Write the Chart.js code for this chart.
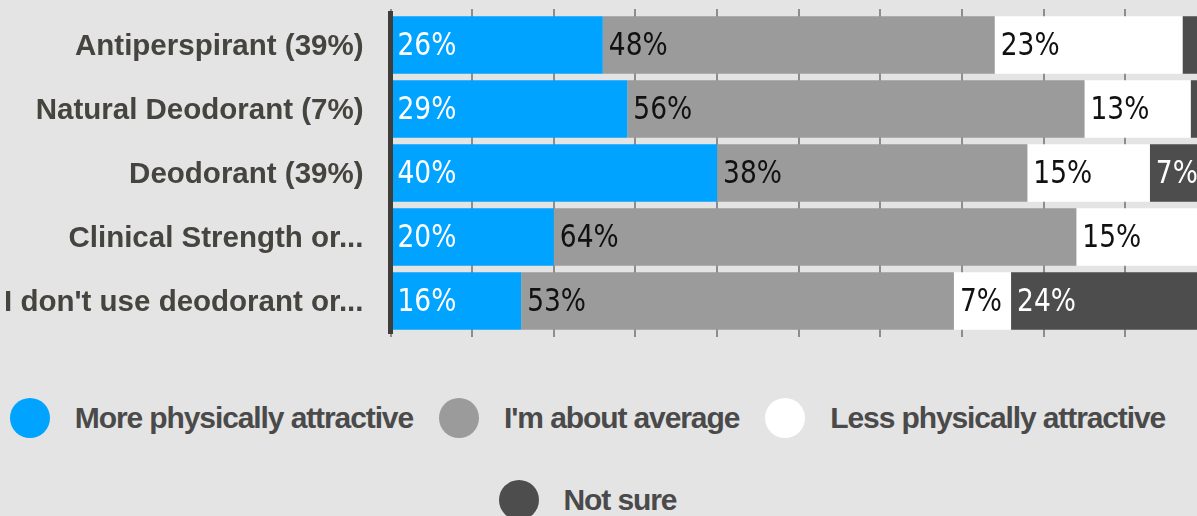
<!DOCTYPE html>
<html>
<head>
<meta charset="utf-8">
<script src="https://cdn.jsdelivr.net/npm/chart.js@4"></script>
<style>
  html, body { margin: 0; padding: 0; overflow: hidden; background: #e4e4e4; width: 1197px; height: 516px; }
  #wrap { position: absolute; left: 0; top: 0; width: 1207px; height: 340px; }
  #legend {
    position: absolute; left: 1px; top: 398px; width: 1173px;
    display: flex; flex-wrap: wrap; justify-content: center;
    column-gap: 26px; row-gap: 42px;
  }
  .item { display: flex; align-items: center; height: 40px; }
  .dot { width: 40px; height: 40px; border-radius: 50%; margin-right: 25px; }
  .txt {
    font: bold 30px "Liberation Sans", Arial, sans-serif; letter-spacing: -1.1px;
    color: #4a4a4a; line-height: 40px; white-space: nowrap;
  }
</style>
</head>
<body>
<div id="wrap"><canvas id="chart"></canvas></div>
<div id="legend"></div>
<script>
const categories = ['Antiperspirant (39%)', 'Natural Deodorant (7%)', 'Deodorant (39%)', 'Clinical Strength or...', "I don't use deodorant or..."];
const seriesNames = ['More physically attractive', "I'm about average", 'Less physically attractive', 'Not sure'];
const moreAttractive = [26, 29, 40, 20, 16];
const aboutAverage = [48, 56, 38, 64, 53];
const lessAttractive = [23, 13, 15, 15, 7];
const notSure = [3, 2, 7, 1, 24];
const seriesColors = ['#00a3ff', '#9b9b9b', '#ffffff', '#4d4d4d'];
const labelColors = ['#ffffff', '#111111', '#111111', '#ffffff'];

const allValues = [moreAttractive, aboutAverage, lessAttractive, notSure];

// draws "26%" style labels inside each segment, left aligned
const barLabels = {
  id: 'barLabels',
  afterDatasetsDraw(chart) {
    const ctx = chart.ctx;
    const squeeze = 0.92;
    chart.data.datasets.forEach((ds, i) => {
      const meta = chart.getDatasetMeta(i);
      meta.data.forEach((bar, j) => {
        const p = bar.getProps(['x', 'y', 'base'], true);
        const txt = ds.data[j] + '%';
        ctx.save();
        ctx.font = '32px "DejaVu Sans Condensed", "DejaVu Sans", sans-serif';
        ctx.textBaseline = 'middle';
        ctx.textAlign = 'left';
        const w = ctx.measureText(txt).width * squeeze;
        if (p.x - p.base >= w + 10) {
          ctx.translate(p.base + 6, p.y + 2);
          ctx.scale(squeeze, 1);
          ctx.fillStyle = labelColors[i];
          ctx.fillText(txt, 0, 0);
        }
        ctx.restore();
      });
    });
  }
};

const gridColor = '#8d8d8d';

const chart = new Chart(document.getElementById('chart'), {
  type: 'bar',
  data: {
    labels: categories,
    datasets: seriesNames.map((name, i) => ({
      label: name,
      data: allValues[i],
      backgroundColor: seriesColors[i],
      borderWidth: 0,
      barPercentage: 0.9,
      categoryPercentage: 1
    }))
  },
  options: {
    indexAxis: 'y',
    responsive: true,
    maintainAspectRatio: false,
    animation: false,
    devicePixelRatio: 1,
    layout: { padding: { top: 9, bottom: 3, left: 0, right: 0 } },
    plugins: { legend: { display: false }, tooltip: { enabled: false } },
    scales: {
      x: {
        stacked: true, min: 0, max: 100,
        ticks: { display: false, stepSize: 10 },
        grid: { color: gridColor, lineWidth: 2, tickLength: 4 },
        border: { display: false }
      },
      x2: {
        type: 'linear', position: 'top', min: 0, max: 100,
        ticks: { display: false, stepSize: 10 },
        grid: { color: gridColor, lineWidth: 2, tickLength: 4, drawOnChartArea: false },
        border: { display: false }
      },
      y: {
        stacked: true,
        grid: { display: false, drawTicks: false },
        border: { display: true, color: '#3f3d39', width: 5, z: 1 },
        ticks: {
          color: '#46443f', padding: 27, labelOffset: 2,
          font: { family: '"Liberation Sans", Arial, sans-serif', size: 29.5, weight: 'bold' }
        },
        afterFit(scale) {
          scale.width = 390.5;
          scale.paddingTop = 0;
          scale.paddingBottom = 0;
        }
      }
    }
  },
  plugins: [barLabels]
});

// html legend built from the chart datasets
const legend = document.getElementById('legend');
chart.data.datasets.forEach(ds => {
  const item = document.createElement('div');
  item.className = 'item';
  const dot = document.createElement('span');
  dot.className = 'dot';
  dot.style.background = ds.backgroundColor;
  const txt = document.createElement('span');
  txt.className = 'txt';
  txt.textContent = ds.label;
  item.appendChild(dot);
  item.appendChild(txt);
  legend.appendChild(item);
});
</script>
</body>
</html>
